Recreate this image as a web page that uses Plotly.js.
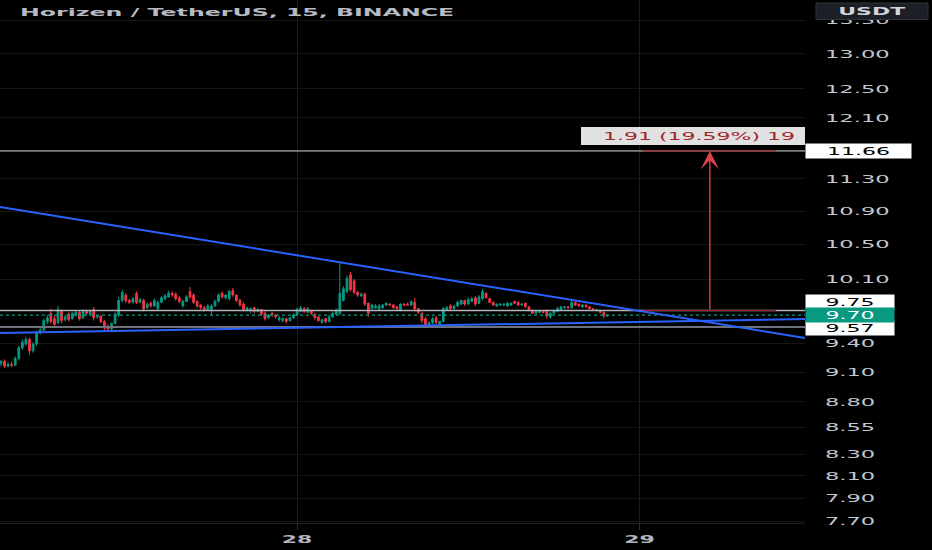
<!DOCTYPE html>
<html>
<head>
<meta charset="utf-8">
<script src="https://cdn.plot.ly/plotly-3.0.1.min.js"></script>
<style>
  html, body { margin: 0; padding: 0; background: #000; }
  #chart { width: 932px; height: 550px; }
</style>
</head>
<body>
<div id="chart"></div>
<script>
// ---- Data: Horizen / TetherUS, 15-minute candles (BINANCE) ----
const firstCandle = '2023-12-27 03:15';
const candleMinutes = 15;

const opens = [
  9.19,9.21,9.16,9.18,9.17, 9.24,9.35,9.39,9.44,9.32, 9.39,9.51,9.54,9.63,9.72, 9.66,9.62,9.74,9.65,9.71,
  9.66,9.70,9.73,9.67,9.74, 9.71,9.76,9.68,9.69,9.63, 9.58,9.55,9.61,9.70,9.86,
  9.92,9.86,9.84,9.94,9.84, 9.86,9.78,9.83,9.80,9.77, 9.84,9.88,9.90,9.94,9.93, 9.89,9.80,9.85,9.96,9.92,
  9.85,9.81,9.78,9.76,9.76, 9.80,9.85,9.94,9.89,9.88, 9.97,9.92,9.86,9.82,9.75,
  9.75,9.78,9.74,9.76,9.72, 9.67,9.72,9.70,9.65,9.64, 9.66,9.64,9.67,9.70,9.74, 9.77,9.73,9.75,9.71,9.68,
  9.62,9.66,9.63,9.68,9.71, 9.72,9.86,9.96,10.15,10.08, 9.95,9.91,9.93,9.83,9.77, 9.78,9.77,9.78,9.81,9.82,
  9.81,9.79,9.75,9.82,9.82, 9.81,9.84,9.77,9.72,9.66, 9.58,9.62,9.67,9.60,9.63, 9.76,9.80,9.77,9.80,9.82,
  9.86,9.82,9.85,9.89,9.83, 9.88,9.94,9.88,9.84,9.80,
  9.81,9.81,9.80,9.81,9.85, 9.84,9.81,9.83,9.79,9.75, 9.72,9.73,9.74,9.75,9.68, 9.72,9.74,9.76,9.78,9.79,
  9.78,9.84,9.82,9.79,9.81, 9.79,9.77,9.75,9.75,9.73, 9.69
];
const highs = [
  9.22,9.23,9.20,9.21,9.26, 9.37,9.44,9.47,9.46,9.41, 9.53,9.56,9.66,9.70,9.77, 9.69,9.80,9.76,9.70,9.73,
  9.73,9.75,9.75,9.76,9.76, 9.75,9.79,9.70,9.70,9.65, 9.60,9.62,9.73,9.90,9.98,
  9.94,9.88,9.90,9.96,9.89, 9.88,9.84,9.85,9.88,9.86, 9.91,9.93,9.97,9.96,9.95, 9.91,9.87,9.92,10.01,9.94,
  9.86,9.82,9.80,9.82,9.82, 9.87,9.94,9.96,9.93,9.98, 10.00,9.93,9.88,9.84,9.79,
  9.78,9.79,9.78,9.77,9.74, 9.71,9.73,9.71,9.69,9.68, 9.67,9.68,9.72,9.78,9.80, 9.79,9.79,9.76,9.72,9.69,
  9.66,9.67,9.70,9.74,9.77, 10.29,10.02,10.14,10.18,10.10, 9.97,9.95,9.95,9.84,9.82, 9.82,9.82,9.82,9.84,9.83,
  9.82,9.80,9.83,9.83,9.84, 9.86,9.89,9.78,9.73,9.68, 9.63,9.68,9.69,9.64,9.79, 9.80,9.82,9.81,9.86,9.87,
  9.87,9.89,9.90,9.91,9.92, 9.99,9.95,9.89,9.85,9.83,
  9.83,9.83,9.84,9.84,9.86, 9.85,9.83,9.84,9.80,9.76, 9.75,9.75,9.75,9.76,9.73, 9.76,9.79,9.80,9.80,9.80,
  9.86,9.85,9.83,9.82,9.82, 9.80,9.78,9.77,9.76,9.74, 9.71
];
const lows = [
  9.16,9.14,9.15,9.15,9.16, 9.22,9.33,9.37,9.28,9.30, 9.37,9.49,9.52,9.60,9.61, 9.56,9.60,9.61,9.63,9.63,
  9.65,9.68,9.64,9.66,9.70, 9.69,9.64,9.66,9.61,9.53, 9.52,9.53,9.60,9.68,9.84,
  9.83,9.82,9.83,9.82,9.83, 9.74,9.77,9.78,9.79,9.75, 9.83,9.86,9.89,9.90,9.86, 9.83,9.78,9.84,9.88,9.82,
  9.78,9.76,9.74,9.75,9.70, 9.79,9.84,9.88,9.87,9.86, 9.90,9.84,9.79,9.74,9.74,
  9.72,9.72,9.73,9.69,9.64, 9.66,9.68,9.66,9.63,9.62, 9.61,9.63,9.66,9.69,9.73, 9.72,9.72,9.70,9.65,9.63,
  9.61,9.61,9.62,9.67,9.70, 9.70,9.85,9.94,9.96,9.93, 9.90,9.90,9.80,9.68,9.76, 9.77,9.75,9.77,9.80,9.80,
  9.77,9.76,9.74,9.80,9.80, 9.80,9.74,9.71,9.61,9.56, 9.56,9.60,9.60,9.58,9.62, 9.75,9.75,9.76,9.79,9.81,
  9.80,9.81,9.84,9.80,9.82, 9.86,9.88,9.83,9.80,9.79,
  9.80,9.80,9.79,9.80,9.82, 9.80,9.80,9.78,9.74,9.71, 9.71,9.72,9.72,9.66,9.66, 9.71,9.73,9.75,9.77,9.77,
  9.77,9.80,9.79,9.78,9.78, 9.76,9.75,9.74,9.72,9.67, 9.68
];
const closes = [
  9.21,9.16,9.18,9.17,9.24, 9.35,9.41,9.44,9.32,9.39, 9.51,9.54,9.64,9.67,9.63, 9.60,9.76,9.64,9.68,9.65,
  9.72,9.73,9.66,9.74,9.72, 9.74,9.67,9.69,9.63,9.56, 9.55,9.61,9.71,9.86,9.95,
  9.86,9.84,9.88,9.84,9.87, 9.77,9.82,9.80,9.86,9.84, 9.89,9.91,9.94,9.92,9.88, 9.85,9.85,9.90,9.90,9.84,
  9.80,9.78,9.76,9.80,9.80, 9.85,9.92,9.90,9.92,9.96, 9.92,9.86,9.81,9.76,9.78,
  9.77,9.74,9.76,9.71,9.66, 9.70,9.70,9.68,9.67,9.66, 9.63,9.67,9.70,9.76,9.78, 9.74,9.77,9.72,9.67,9.64,
  9.65,9.63,9.68,9.72,9.75, 9.94,9.99,10.11,9.98,9.95, 9.92,9.93,9.82,9.72,9.81, 9.80,9.80,9.81,9.83,9.81,
  9.78,9.77,9.82,9.81,9.81, 9.85,9.77,9.73,9.64,9.58, 9.62,9.66,9.62,9.63,9.77, 9.78,9.77,9.80,9.84,9.86,
  9.82,9.87,9.88,9.82,9.90, 9.96,9.89,9.84,9.81,9.82,
  9.82,9.82,9.83,9.83,9.83, 9.81,9.82,9.79,9.75,9.72, 9.74,9.74,9.73,9.69,9.72, 9.75,9.77,9.79,9.79,9.78,
  9.84,9.81,9.80,9.81,9.79, 9.77,9.76,9.76,9.73,9.69, 9.70
];

// Price axis ticks
const yTickVals = [13.5, 13.0, 12.5, 12.1, 11.3, 10.9, 10.5, 10.1, 9.4, 9.1, 8.8, 8.55, 8.3, 8.1, 7.9, 7.7];
const yTickText = ['13.50','13.00','12.50','12.10','11.30','10.90','10.50','10.10','9.40','9.10','8.80','8.55','8.30','8.10','7.90','7.70'];
// Time axis ticks
const xTickVals = ['2023-12-28 00:00', '2023-12-29 00:00'];
const xTickText = ['28', '29'];
const xRange = ['2023-12-27 03:11', '2023-12-29 11:36'];
const yRange = [7.683, 13.81];

// Drawings
const upperTrendTimes = ['2023-12-27 03:11', '2023-12-29 11:36'];
const upperTrendPrices = [10.95, 9.455];
const lowerTrendTimes = ['2023-12-27 03:11', '2023-12-29 11:36'];
const lowerTrendPrices = [9.507, 9.658];
const targetLevel = 11.66;
const resistLevel = 9.75;
const supportLevel = 9.57;
const lastPrice = 9.70;
const measureTimes = ['2023-12-29 00:15', '2023-12-29 09:34'];
const measureArrowTime = '2023-12-29 04:56';
const measureText = '1.91 (19.59%) 19';

// ---- Build ----
function fmt(ms) {
  const d = new Date(ms), p = n => String(n).padStart(2, '0');
  return d.getUTCFullYear() + '-' + p(d.getUTCMonth() + 1) + '-' + p(d.getUTCDate()) + ' ' + p(d.getUTCHours()) + ':' + p(d.getUTCMinutes());
}
const t0 = Date.parse(firstCandle.replace(' ', 'T') + ':00Z');
const times = closes.map((_, i) => fmt(t0 + i * candleMinutes * 60000));

const GREEN = '#089981', RED = '#f23645', BLUE = '#2962ff', MRED = '#a3262f', ARED = '#e0404a';
const FONT = 'DejaVu Sans';

const line = (xs, ys, color, width, dash) => ({
  type: 'scatter', mode: 'lines', x: xs, y: ys,
  line: { color: color, width: width, dash: dash || 'solid' }, hoverinfo: 'skip', showlegend: false
});
const levelLine = (price, color, width, dash) => line(xRange, [price, price], color, width, dash);

const data = [
  {
    type: 'candlestick', x: times, open: opens, high: highs, low: lows, close: closes,
    increasing: { line: { color: GREEN, width: 1 }, fillcolor: GREEN },
    decreasing: { line: { color: RED, width: 1 }, fillcolor: RED },
    whiskerwidth: 0, showlegend: false, hoverinfo: 'skip'
  },
  levelLine(targetLevel, '#d9d9d9', 1),
  levelLine(resistLevel, '#b2b5be', 1.6),
  levelLine(supportLevel, '#6f727c', 2),
  levelLine(lastPrice, GREEN, 1.2, 'dot'),
  line(upperTrendTimes, upperTrendPrices, BLUE, 2),
  line(lowerTrendTimes, lowerTrendPrices, BLUE, 2),
  // measure tool horizontals
  line(measureTimes, [targetLevel, targetLevel], MRED, 1.2),
  line(measureTimes, [resistLevel, resistLevel], MRED, 1.2)
];

const L = Math.log10;
const shapes = [
  // measure label box
  { type: 'rect', xref: 'paper', yref: 'paper', x0: 581 / 805, x1: 1, y0: 1 - 145 / 523, y1: 1 - 127 / 523, fillcolor: '#e1e1e1', line: { width: 0 }, layer: 'above' },
  // USDT button
  { type: 'rect', xref: 'paper', yref: 'paper', x0: 816 / 805, x1: 928 / 805, y0: 1 - 19.5 / 523, y1: 1 - 3 / 523, fillcolor: '#1c1f26', line: { color: '#2f333d', width: 1 }, layer: 'above' }
];

const priceLabel = (price, text, bg, fg, width, yshift) => ({
  xref: 'paper', yref: 'y', x: 1, y: L(price), xanchor: 'left', yanchor: 'middle', yshift: yshift,
  text: text, showarrow: false, width: width, height: 12, borderpad: 1, bgcolor: bg, align: 'center',
  font: { family: FONT, size: 11, color: fg }
});

const annotations = [
  // measure arrow (tail at resistance, head at target)
  { xref: 'x', yref: 'y', x: measureArrowTime, y: L(targetLevel), axref: 'x', ayref: 'y', ax: measureArrowTime, ay: L(resistLevel),
    text: '', showarrow: true, arrowhead: 3, arrowsize: 2.2, arrowwidth: 1.4, arrowcolor: ARED, standoff: 0, startstandoff: 0 },
  priceLabel(targetLevel, '11.66', '#ffffff', '#000000', 103, 0),
  priceLabel(resistLevel, '9.75', '#ffffff', '#000000', 86, 8.5),
  priceLabel(supportLevel, '9.57', '#ffffff', '#000000', 86, -1),
  priceLabel(lastPrice, '9.70', GREEN, '#ffffff', 86, 0),
  { xref: 'paper', yref: 'paper', x: 699 / 805, y: 1 - 136 / 523, xanchor: 'center', yanchor: 'middle', text: measureText,
    showarrow: false, font: { family: FONT, size: 11, color: MRED } },
  { xref: 'paper', yref: 'paper', x: 872 / 805, y: 1 - 11 / 523, xanchor: 'center', yanchor: 'middle', text: 'USDT',
    showarrow: false, font: { family: FONT, size: 11, color: '#d1d4dc', weight: 'bold' } }
];

const layout = {
  width: 932, height: 550,
  paper_bgcolor: '#000000', plot_bgcolor: '#000000',
  margin: { l: 0, r: 127, t: 0, b: 27 },
  showlegend: false,
  title: { text: 'Horizen / TetherUS, 15, BINANCE', xref: 'container', yref: 'container', x: 20 / 932, xanchor: 'left', y: 1 - 12 / 550, yanchor: 'middle',
    font: { family: FONT, size: 11, color: '#b7bac2', weight: 'bold' } },
  xaxis: {
    type: 'date', range: xRange, rangeslider: { visible: false },
    tickmode: 'array', tickvals: xTickVals, ticktext: xTickText,
    showgrid: true, gridcolor: '#1b1b1b', gridwidth: 1,
    ticks: 'outside', ticklen: 6, tickcolor: '#2e2e2e',
    showline: true, linecolor: '#1f1f1f', linewidth: 1, zeroline: false,
    tickfont: { family: FONT, size: 11, color: '#b2b5be', weight: 'bold' }
  },
  yaxis: {
    type: 'log', side: 'right', range: [L(yRange[0]), L(yRange[1])],
    tickmode: 'array', tickvals: yTickVals, ticktext: yTickText,
    showgrid: true, gridcolor: '#151515', gridwidth: 1,
    ticks: '', showline: false, zeroline: false, ticklabelstandoff: 19,
    tickfont: { family: FONT, size: 11, color: '#c3c6ce' }
  },
  shapes: shapes,
  annotations: annotations
};

Plotly.newPlot('chart', data, layout, { staticPlot: true, displayModeBar: false }).then(gd => {
  const stretch = (sel, f) => gd.querySelectorAll(sel).forEach(t => {
    const w = t.getComputedTextLength();
    if (w > 0) { t.setAttribute('textLength', (w * f).toFixed(1)); t.setAttribute('lengthAdjust', 'spacingAndGlyphs'); }
  });
  stretch('.ytick text', 2.05);
  stretch('.xtick text', 2.0);
  stretch('.gtitle', 2.15);
  stretch('.annotation-text', 2.0);
});
</script>
</body>
</html>
